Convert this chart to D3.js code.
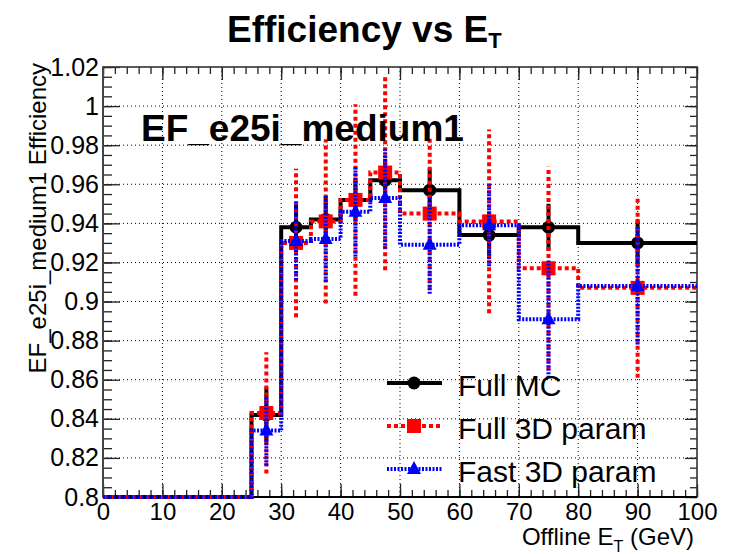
<!DOCTYPE html>
<html><head><meta charset="utf-8">
<script src="https://cdn.jsdelivr.net/npm/d3@7/dist/d3.min.js"></script>
<style>
html,body{margin:0;padding:0;background:#fff;}
svg{display:block;font-family:"Liberation Sans",Arial,Helvetica,sans-serif;}
</style>
</head><body>
<svg id="c" width="732" height="554"></svg>
<script>
// ---- data ----
const binEdges = [0, 25, 30, 35, 40, 45, 50, 60, 70, 80, 100];
const fullMC     = [0, 0.842, 0.938, 0.942, 0.952, 0.962, 0.957, 0.934, 0.938, 0.930];
const fullMCErr  = [0, 0.014, 0.012, 0.012, 0.011, 0.011, 0.011, 0.012, 0.012, 0.012];
const full3D     = [0, 0.843, 0.930, 0.941, 0.952, 0.966, 0.945, 0.941, 0.917, 0.907];
const full3DErr  = [0, 0.031, 0.038, 0.042, 0.049, 0.050, 0.039, 0.047, 0.052, 0.046];
const fast3D     = [0, 0.834, 0.931, 0.932, 0.946, 0.953, 0.929, 0.939, 0.891, 0.908];
const fast3DErr  = [0, 0.018, 0.020, 0.022, 0.023, 0.026, 0.025, 0.021, 0.030, 0.030];
const xTicks = [0, 10, 20, 30, 40, 50, 60, 70, 80, 90, 100];
const yTicks = [0.8, 0.82, 0.84, 0.86, 0.88, 0.9, 0.92, 0.94, 0.96, 0.98, 1, 1.02];
const yTickLabels = ["0.8","0.82","0.84","0.86","0.88","0.9","0.92","0.94","0.96","0.98","1","1.02"];
const seriesNames = ["Full MC", "Full 3D param", "Fast 3D param"];

const svg = d3.select("#c");
const X0 = 103, X1 = 697, Y0 = 67, Y1 = 497;
const x = d3.scaleLinear().domain([0, 100]).range([X0, X1]);
const y = d3.scaleLinear().domain([0.8, 1.02]).range([Y1, Y0]).clamp(true);

// grid
const grid = svg.append("g");
xTicks.slice(1, -1).forEach(t => grid.append("line")
  .attr("x1", x(t)).attr("x2", x(t)).attr("y1", Y0).attr("y2", Y1)
  .attr("stroke", "#000").attr("stroke-width", 1).attr("stroke-dasharray", "1,3"));
yTicks.slice(1, -1).forEach(t => grid.append("line")
  .attr("y1", y(t)).attr("y2", y(t)).attr("x1", X0).attr("x2", X1)
  .attr("stroke", "#000").attr("stroke-width", 1).attr("stroke-dasharray", "1,3"));

// axes (ticks inward)
const xMinor = d3.range(0, 101, 2);
const yMinor = d3.range(0, 45).map(i => 0.8 + i * 0.005);
function axisG(axis, tr) { return svg.append("g").attr("transform", tr).call(axis); }
const styleAxis = g => { g.select(".domain").remove(); g.selectAll("line").attr("stroke", "#222").attr("stroke-width", 1.3); };

axisG(d3.axisBottom(x).tickValues(xMinor).tickSize(-7).tickFormat(""), `translate(0,${Y1})`).call(styleAxis);
axisG(d3.axisBottom(x).tickValues(xTicks).tickSize(-13).tickFormat(d3.format("d")), `translate(0,${Y1})`).call(styleAxis)
  .call(g => g.selectAll("text").attr("font-size", 24).attr("fill", "#000").attr("y", 6).attr("dy", "0.71em").attr("font-family", "Liberation Sans, Arial, sans-serif"));
axisG(d3.axisTop(x).tickValues(xMinor).tickSize(-7).tickFormat(""), `translate(0,${Y0})`).call(styleAxis);
axisG(d3.axisTop(x).tickValues(xTicks).tickSize(-13).tickFormat(""), `translate(0,${Y0})`).call(styleAxis);

axisG(d3.axisLeft(y).tickValues(yMinor).tickSize(-9).tickFormat(""), `translate(${X0},0)`).call(styleAxis);
axisG(d3.axisLeft(y).tickValues(yTicks).tickSize(-17).tickFormat((d, i) => yTickLabels[i]), `translate(${X0},0)`).call(styleAxis)
  .call(g => g.selectAll("text").attr("font-size", 25).attr("fill", "#000").attr("x", -4).attr("font-family", "Liberation Sans, Arial, sans-serif"));
axisG(d3.axisRight(y).tickValues(yMinor).tickSize(-7).tickFormat(""), `translate(${X1},0)`).call(styleAxis);
axisG(d3.axisRight(y).tickValues(yTicks).tickSize(-12).tickFormat(""), `translate(${X1},0)`).call(styleAxis);

// frame
svg.append("rect").attr("x", X0).attr("y", Y0).attr("width", X1 - X0).attr("height", Y1 - Y0)
  .attr("fill", "none").attr("stroke", "#333").attr("stroke-width", 1.6);
svg.append("line").attr("x1", X0).attr("x2", X1).attr("y1", Y1).attr("y2", Y1).attr("stroke", "#000").attr("stroke-width", 2);
svg.append("line").attr("x1", X0).attr("x2", X0).attr("y1", Y0).attr("y2", Y1).attr("stroke", "#444").attr("stroke-width", 2);

// clip
svg.append("clipPath").attr("id", "clip").append("rect")
  .attr("x", X0 - 2).attr("y", Y0).attr("width", X1 - X0 + 4).attr("height", Y1 - Y0 + 2);
const plot = svg.append("g").attr("clip-path", "url(#clip)");

const series = [
  { vals: fullMC, errs: fullMCErr, color: "#000", dash: null, width: 4, marker: "circle" },
  { vals: full3D, errs: full3DErr, color: "#ff0000", dash: "4,3", width: 4, marker: "square" },
  { vals: fast3D, errs: fast3DErr, color: "#0000ff", dash: "2,1.5", width: 4, marker: "triangle" }
];

function stepPath(vals) {
  const p = d3.path();
  vals.forEach((v, i) => {
    const xa = x(binEdges[i]), xb = x(binEdges[i + 1]), yy = y(v);
    if (i === 0) p.moveTo(xa, yy); else p.lineTo(xa, yy);
    p.lineTo(xb, yy);
  });
  return p.toString();
}
function drawMarker(g, type, cx, cy, color) {
  if (type === "circle") g.append("circle").attr("cx", cx).attr("cy", cy).attr("r", 6.5).attr("fill", color);
  else if (type === "square") g.append("rect").attr("x", cx - 7).attr("y", cy - 7).attr("width", 14).attr("height", 14).attr("fill", color);
  else g.append("path").attr("d", `M${cx},${cy - 8}L${cx + 7},${cy + 5}L${cx - 7},${cy + 5}Z`).attr("fill", color);
}

series.forEach(s => {
  const g = plot.append("g");
  g.append("path").attr("d", stepPath(s.vals)).attr("fill", "none")
    .attr("stroke", s.color).attr("stroke-width", s.width)
    .attr("stroke-dasharray", s.dash).attr("stroke-linejoin", "miter");
  s.vals.forEach((v, i) => {
    if (v < 0.8) return;
    const cx = x((binEdges[i] + binEdges[i + 1]) / 2);
    g.append("line").attr("x1", cx).attr("x2", cx)
      .attr("y1", y(v - s.errs[i])).attr("y2", y(v + s.errs[i]))
      .attr("stroke", s.color).attr("stroke-width", s.width).attr("stroke-dasharray", s.dash);
    drawMarker(g, s.marker, cx, y(v), s.color);
  });
});

// legend
const legY = [383, 426, 469];
series.forEach((s, i) => {
  const g = svg.append("g");
  g.append("line").attr("x1", 387).attr("x2", 442).attr("y1", legY[i]).attr("y2", legY[i])
    .attr("stroke", s.color).attr("stroke-width", s.width).attr("stroke-dasharray", s.dash);
  drawMarker(g, s.marker, 414, legY[i], s.color);
  g.append("text").attr("x", 458).attr("y", legY[i] + 13).attr("font-size", 30).attr("fill", "#000").text(seriesNames[i]);
});

// texts
const title = svg.append("text").attr("x", 227).attr("y", 42).attr("font-size", 37).attr("font-weight", "bold");
title.append("tspan").text("Efficiency vs E");
title.append("tspan").attr("font-size", 22).attr("dy", 6).text("T");

svg.append("text").attr("x", 141).attr("y", 141).attr("font-size", 37).attr("font-weight", "bold").text("EF_e25i_medium1");

svg.append("text").attr("transform", "translate(46,63) rotate(-90)").attr("text-anchor", "end")
  .attr("font-size", 24).text("EF_e25i_medium1 Efficiency");

const xl = svg.append("text").attr("x", 694).attr("y", 545).attr("text-anchor", "end").attr("font-size", 24);
xl.append("tspan").text("Offline E");
xl.append("tspan").attr("font-size", 16).attr("dy", 7).text("T");
xl.append("tspan").attr("dy", -7).text(" (GeV)");
</script>
</body></html>
